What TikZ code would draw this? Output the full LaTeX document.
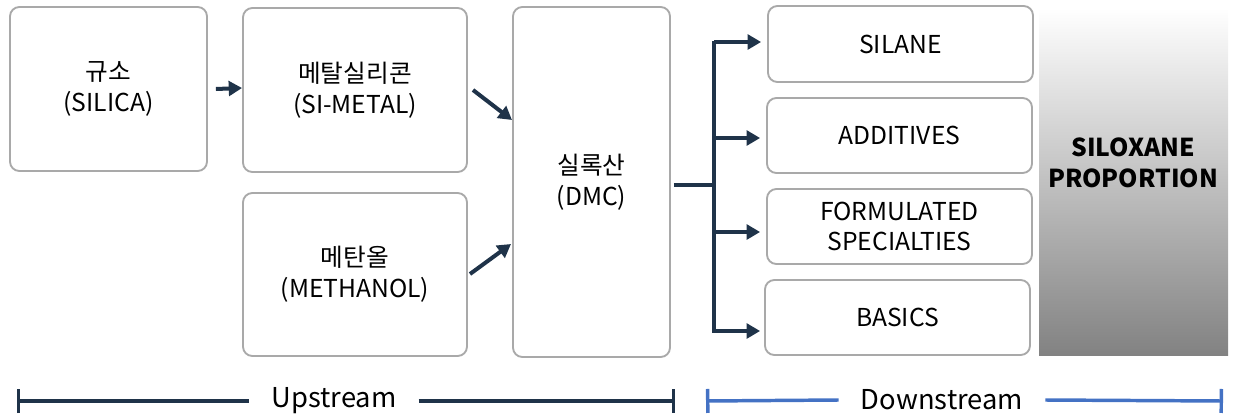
\documentclass[tikz,border=0pt]{standalone}
\usepackage{fontspec}
\setmainfont{Noto Sans CJK KR}
\usetikzlibrary{arrows.meta,calc}
\definecolor{boxgray}{HTML}{A9A9A9}
\definecolor{navy}{HTML}{1F3349}
\definecolor{dsblue}{HTML}{4472C4}
\definecolor{shadegray}{HTML}{828282}
\tikzset{
  box/.style={draw=boxgray, line width=1.4pt, rounded corners=7pt, fill=white,
    align=center, inner sep=0pt, font=\fontsize{18.5}{23}\selectfont},
  flow/.style={draw=navy, line width=3pt, -{Triangle[length=10pt,width=11pt]}},
  trunk/.style={draw=navy, line width=3pt},
  upbar/.style={draw=navy, line width=2.6pt},
  downbar/.style={draw=dsblue, line width=2.6pt},
  barlabel/.style={font=\fontsize{20.5}{24}\selectfont, inner sep=0pt}
}
\begin{document}
\begin{tikzpicture}[x=0.75pt,y=-0.75pt]
\useasboundingbox (0,0) rectangle (1236,418);
% gradient panel
\shade[top color=white, bottom color=shadegray] (1039,8) rectangle (1228,355);
\node[font=\bfseries\fontsize{18.5}{23}\selectfont, align=center] (prop) at (1133,163) {SILOXANE\\PROPORTION};
% upstream boxes
\node[box, minimum width=197*0.75pt, minimum height=164*0.75pt] (silica) at (108.5,89) {규소\\(SILICA)};
\node[box, minimum width=224*0.75pt, minimum height=164*0.75pt] (metal) at (355,90) {메탈실리콘\\(SI-METAL)};
\node[box, minimum width=224*0.75pt, minimum height=163*0.75pt] (methanol) at (355,274.5) {메탄올\\(METHANOL)};
\node[box, minimum width=157*0.75pt, minimum height=350*0.75pt] (dmc) at (591.5,182) {실록산\\(DMC)};
% downstream boxes
\node[box, minimum width=265*0.75pt, minimum height=76*0.75pt] (silane) at (900.5,44) {SILANE};
\node[box, minimum width=265*0.75pt, minimum height=75*0.75pt] (add) at (899.5,135.5) {ADDITIVES};
\node[box, minimum width=265*0.75pt, minimum height=75*0.75pt] (form) at (899.5,226.5) {FORMULATED\\SPECIALTIES};
\node[box, minimum width=265*0.75pt, minimum height=75*0.75pt] (basics) at (897.5,317.5) {BASICS};
% arrows
\draw[flow] ($(silica.east)+(8,0)$) -- ($(metal.west)+(0,-2)$);
\draw[flow] (473,90) -- (512,120);
\draw[flow] (470,274) -- (511,244);
% trunk
\coordinate (j) at (714,185);
\coordinate (jtop) at (714,42);
\coordinate (jbot) at (714,331);
\draw[trunk] ($(dmc.east)+(3,3)$) -- (j);
\draw[trunk] ($(jtop)+(0,-1.5)$) -- ($(jbot)+(0,1.5)$);
\draw[flow] (jtop) -- ($(silane.west)+(-6,-2)$);
\draw[flow] (714,138) -- ($(add.west)+(-6,2.5)$);
\draw[flow] (714,232) -- ($(form.west)+(-6,5.5)$);
\draw[flow] (jbot) -- ($(basics.west)+(-4,13.5)$);
% upstream bracket
\node[barlabel] (up) at (334,401) {Upstream};
\coordinate (uL) at (17,401);
\coordinate (uR) at (675,401);
\draw[upbar, {Bar[width=18pt,line width=2.6pt]}-] (uL) -- ($(up.west)+(-22,0)$);
\draw[upbar, -{Bar[width=18pt,line width=2.6pt]}] ($(up.east)+(22,0)$) -- (uR);
% downstream bracket
\node[barlabel] (down) at (942,400) {Downstream};
\coordinate (dL) at (706,401);
\coordinate (dR) at (1223,401);
\draw[downbar, {Bar[width=18pt,line width=2.6pt]}-] (dL) -- ($(down.west)+(-22,0)$);
\draw[downbar, -{Bar[width=18pt,line width=2.6pt]}] ($(down.east)+(22,0)$) -- (dR);
\end{tikzpicture}
\end{document}
